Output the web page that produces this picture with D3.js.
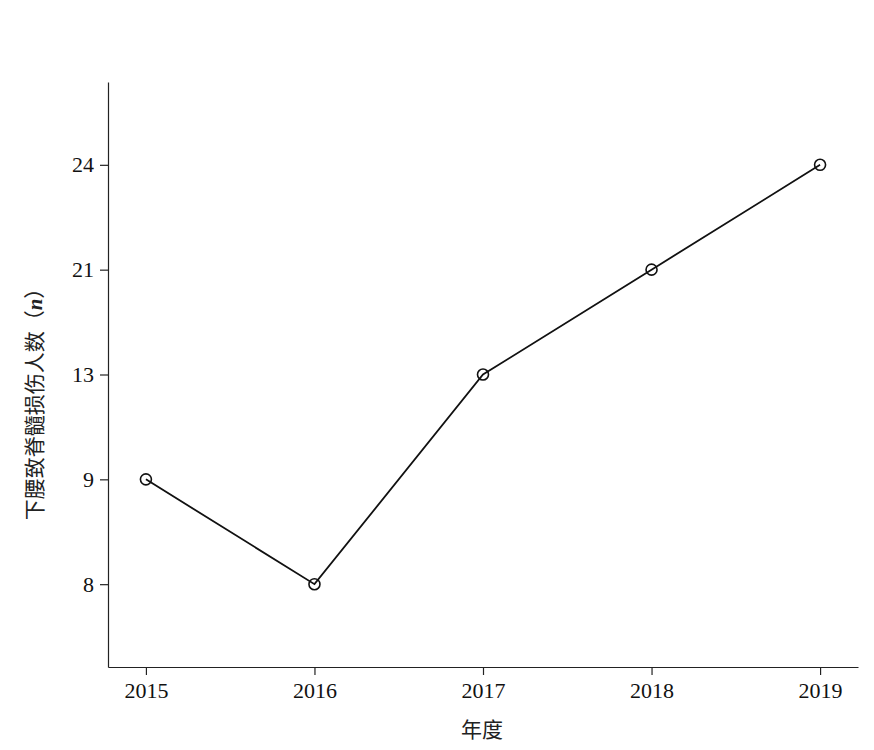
<!DOCTYPE html>
<html><head><meta charset="utf-8">
<script src="https://cdn.jsdelivr.net/npm/d3@7"></script>
<style>body{margin:0;background:#fff}</style>
</head><body>
<svg id="chart" width="874" height="750"></svg>
<script>
const years = ["2015","2016","2017","2018","2019"];
const counts = [9, 8, 13, 21, 24];
const yTicks = ["8","9","13","21","24"];
const xTitle = "年度";
const yTitle = "下腰致脊髓损伤人数";

(function(){
const svg = d3.select("#chart");
const serif = "'Liberation Serif','Times New Roman','Noto Sans CJK SC',serif";
const mLeft = 108, mRight = 858, mTop = 82, mBottom = 667;

const x = d3.scalePoint().domain(years).range([mLeft, mRight]).padding(0.225);
const y = d3.scalePoint().domain(yTicks).range([mBottom, mTop]).padding(0.79);

const xAxis = svg.append("g").attr("transform", `translate(0,${mBottom})`)
  .call(d3.axisBottom(x).tickSizeInner(8).tickSizeOuter(0).tickPadding(7));
const yAxis = svg.append("g").attr("transform", `translate(${mLeft},0)`)
  .call(d3.axisLeft(y).tickSizeInner(8).tickSizeOuter(0).tickPadding(6));
[xAxis, yAxis].forEach(a => {
  a.select(".domain").attr("stroke", "#222").attr("stroke-width", 1.2);
  a.selectAll(".tick line").attr("stroke", "#222").attr("stroke-width", 1.2);
  a.selectAll(".tick text").attr("fill", "#111").style("font-family", serif).style("font-size", "22px");
});

const line = d3.line().x((d, i) => x(years[i])).y(d => y(String(d)));
svg.append("path").datum(counts).attr("d", line)
  .attr("fill", "none").attr("stroke", "#111").attr("stroke-width", 1.8);
svg.selectAll("circle.pt").data(counts).enter().append("circle")
  .attr("class", "pt").attr("cx", (d, i) => x(years[i])).attr("cy", d => y(String(d)))
  .attr("r", 5.5).attr("fill", "none").attr("stroke", "#111").attr("stroke-width", 1.6);

svg.append("text").attr("x", 482).attr("y", 737).attr("text-anchor", "middle")
  .style("font-family", "'Noto Sans CJK SC',serif").style("font-size", "21px").attr("fill", "#222")
  .text(xTitle);

const yt = svg.append("text").attr("transform", "translate(42,399) rotate(-90)")
  .attr("text-anchor", "middle").attr("fill", "#222")
  .style("font-family", "'Noto Sans CJK SC',serif").style("font-size", "21px");
yt.append("tspan").text(yTitle + "（");
yt.append("tspan").style("font-family", serif).style("font-style", "italic").style("font-weight", "bold").text("n");
yt.append("tspan").text("）");
})();
</script>
</body></html>
